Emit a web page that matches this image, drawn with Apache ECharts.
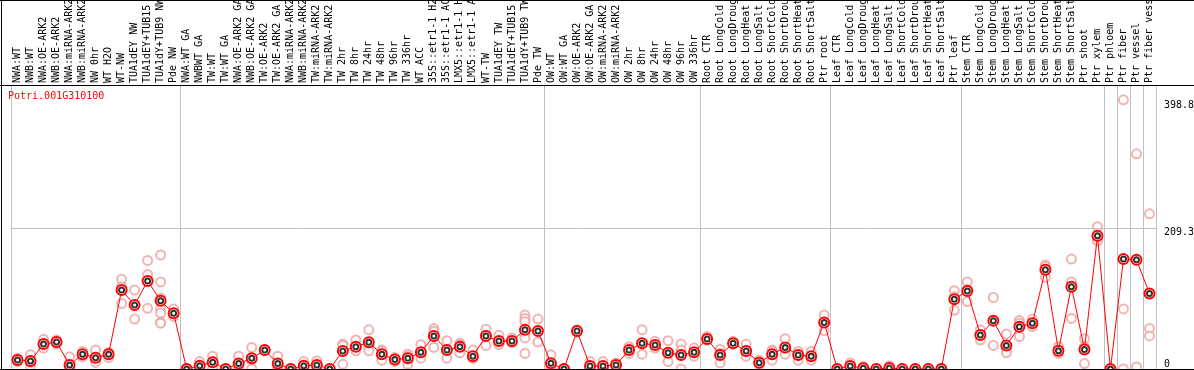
<!DOCTYPE html>
<html><head><meta charset="utf-8">
<script src="https://cdn.jsdelivr.net/npm/echarts@6/dist/echarts.min.js"></script>
<style>html,body{margin:0;padding:0;background:#fff}#c{width:1194px;height:370px}</style>
</head><body><div id="c"></div>
<script>
const geneName = 'Potri.001G310100';
const categories = [
 'NWA:WT','NWB:WT','NWA:OE-ARK2','NWB:OE-ARK2','NWA:miRNA-ARK2','NWB:miRNA-ARK2','NW 0hr','WT H2O','WT-NW','TUA1dEY NW','TUA1dEY+TUB15 NW','TUA1dY+TUB9 NW','Pde NW',
 'NWA:WT GA','NWBWT GA','TW:WT','TW:WT GA','NWA:OE-ARK2 GA','NWB:OE-ARK2 GA','TW:OE-ARK2','TW:OE-ARK2 GA','NWA:miRNA-ARK2','NWB:miRNA-ARK2','TW:miRNA-ARK2','TW:miRNA-ARK2','TW 2hr','TW 8hr','TW 24hr','TW 48hr','TW 96hr','TW 336hr','WT ACC','35S::etr1-1 H2O','35S::etr1-1 ACC','LMX5::etr1-1 H2O','LMX5::etr1-1 ACC','WT-TW','TUA1dEY TW','TUA1dEY+TUB15 TW','TUA1dY+TUB9 TW','Pde TW',
 'OW:WT','OW:WT GA','OW:OE-ARK2','OW:OE-ARK2 GA','OW:miRNA-ARK2','OW:miRNA-ARK2','OW 2hr','OW 8hr','OW 24hr','OW 48hr','OW 96hr','OW 336hr',
 'Root CTR','Root LongCold','Root LongDrought','Root LongHeat','Root LongSalt','Root ShortCold','Root ShortDrought','Root ShortHeat','Root ShortSalt','Ptr root',
 'Leaf CTR','Leaf LongCold','Leaf LongDrought','Leaf LongHeat','Leaf LongSalt','Leaf ShortCold','Leaf ShortDrought','Leaf ShortHeat','Leaf ShortSalt','Ptr leaf',
 'Stem CTR','Stem LongCold','Stem LongDrought','Stem LongHeat','Stem LongSalt','Stem ShortCold','Stem ShortDrought','Stem ShortHeat','Stem ShortSalt','Ptr shoot','Ptr xylem',
 'Ptr phloem','Ptr fiber','Ptr vessel','Ptr fiber vessel'
];
const groupStarts = [0, 13, 41, 53, 63, 73, 84, 85, 86, 87, 88];
const meanValues = [
 13.4, 11.9, 37, 40, 6, 21.8, 16.8, 21.8, 117, 95, 130.6, 101, 82.6,
 0, 5, 10, 0, 8, 15.8, 28, 8, 0, 5, 6, 0, 26.7, 33, 39.6, 21.8, 14, 15.8, 24.7, 49, 28, 33, 19, 49, 41.6, 41.6, 58, 56.4,
 8.4, 0, 56.4, 4.5, 4.5, 6, 28, 38, 35.6, 24, 20.8, 24.7,
 44.5, 20.8, 38, 26.7, 9.4, 21.8, 32, 20.8, 19, 69,
 0, 4.5, 1, 0, 1.5, 0, 0, 0, 0, 103.4,
 115.8, 50.5, 71.7, 35, 62.8, 67.8, 147, 27, 122, 29, 197.4,
 0, 163, 161.8, 112
];
const replicateValues = [
 [16,11,13],[21,5,10],[44,31,37],[43,37,40],[18,0,0],[26,18,21],[28,13,10],[24,17,24],[133,122,97],[117,74],[161,140,90],[169,129,105,89,83,69,68],[89,78],
 [0,0],[11,4,0],[19,11,0],[0,0],[19,3,0],[32,13,0],[28,28],[19,4,0],[0,0],[11,0,4],[12,0,6],[0,0],[37,35,7],[43,31,27],[58,34,27],[28,26,13],[17,11],[22,19,7],[36,25,16],[60,56,32],[42,28,16],[38,36,24],[28,16,16],[59,50,35],[50,38,36],[46,41,39],[80,75,70,53,46,23],[74,40],
 [21,4,0],[0,0],[58,55],[11,2,0],[11,2,0],[9,4],[33,23],[58,38,22],[41,31],[42,24,11],[37,28,0],[31,19],
 [48,43],[29,23,9],[41,37],[37,23,19],[13,7],[28,26,13],[45,31,22],[26,13],[26,13],[80,69,57],
 [0,0],[9,0],[4,0],[0,0],[5,0,0],[0,0],[0,0],[0,0],[0,0],[116,87,107],
 [129,100,118],[58,43],[106,35],[52,27,24],[72,48,68],[74,63],[154,136,152],[33,23],[163,129,75],[45,33,8],[211,192,190],
 [0,0],[399,89,0],[319,3],[230,60,49]
];
const yTickValues = [209.3, 398.8];
const yZeroTick = [0];
const yMax = 421;

const repData = [];
replicateValues.forEach((arr, i) => arr.forEach(v => repData.push([i, v])));
const isSep = (idx) => groupStarts.indexOf(idx) >= 0;
const mono = 'DejaVu Sans Mono';
const W = 1194, H = 370;

const chart = echarts.init(document.getElementById('c'), null, {renderer: 'canvas'});
chart.setOption({
  animation: false,
  backgroundColor: '#fff',
  title: {text: geneName, left: 8, top: 91, padding: 0,
    textStyle: {color: '#ff0000', fontFamily: mono, fontSize: 10, fontWeight: 'normal'}},
  grid: {left: 11, right: W - 1156, top: 85, bottom: 1, containLabel: false, outerBoundsMode: 'none'},
  xAxis: {
    type: 'category', data: categories, position: 'top', boundaryGap: true,
    axisLine: {show: false},
    axisTick: {show: true, length: 85, interval: (i) => isSep(i), lineStyle: {color: '#c0c0c0', width: 1}},
    splitLine: {show: true, interval: (i) => isSep(i), lineStyle: {color: '#c0c0c0', width: 1}},
    axisLabel: {interval: 0, rotate: 90, margin: 2, padding: [4, 0, 0, 0], fontFamily: mono, fontSize: 10, color: '#000', hideOverlap: false}
  },
  yAxis: [{
    type: 'value', position: 'right', min: 0, max: yMax,
    axisLine: {show: false}, axisTick: {show: false}, splitLine: {show: false},
    axisLabel: {customValues: yTickValues, margin: 8, verticalAlign: 'top', fontFamily: mono, fontSize: 10, color: '#000'}
  }, {
    type: 'value', position: 'right', min: 0, max: yMax,
    axisLine: {show: false}, axisTick: {show: false}, splitLine: {show: false},
    axisLabel: {customValues: yZeroTick, margin: 8, verticalAlign: 'bottom', fontFamily: mono, fontSize: 10, color: '#000'}
  }],
  series: [
    {type: 'scatter', data: repData, symbol: 'emptyCircle', symbolSize: 9, z: 2,
     itemStyle: {color: '#eea0a0', borderColor: '#eea0a0', borderWidth: 1.5}},
    {type: 'line', data: meanValues, symbol: 'emptyCircle', symbolSize: 10, z: 3,
     lineStyle: {color: '#ff0000', width: 1},
     itemStyle: {color: '#ff0000', borderColor: '#ff0000', borderWidth: 1.8},
     markLine: {silent: true, symbol: 'none', label: {show: false},
       lineStyle: {color: '#c0c0c0', type: 'solid', width: 1},
       data: [{yAxis: yTickValues[0]}]}},
    {type: 'scatter', data: meanValues, symbol: 'emptyCircle', symbolSize: 5, z: 4,
     itemStyle: {color: '#000', borderColor: '#000', borderWidth: 1}}
  ],
  graphic: [
    {type: 'line', shape: {x1: 0, y1: 0.5, x2: W, y2: 0.5}, style: {stroke: '#000', lineWidth: 1}, z: 100},
    {type: 'line', shape: {x1: 0, y1: 85.5, x2: W, y2: 85.5}, style: {stroke: '#000', lineWidth: 1}, z: 100},
    {type: 'line', shape: {x1: 0, y1: 369.5, x2: W, y2: 369.5}, style: {stroke: '#000', lineWidth: 1}, z: 100},
    {type: 'line', shape: {x1: 1.5, y1: 0, x2: 1.5, y2: H}, style: {stroke: '#000', lineWidth: 1}, z: 100}
  ]
});
</script></body></html>
